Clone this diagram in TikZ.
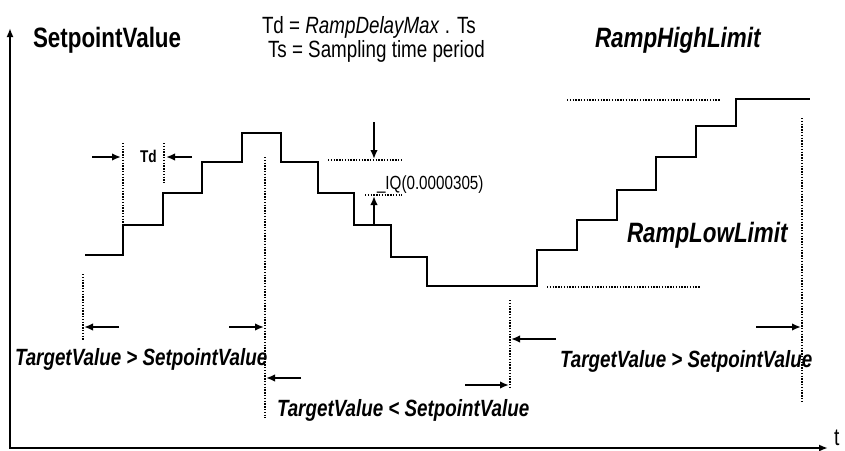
\documentclass[tikz,border=0pt]{standalone}
\usepackage{fontspec}
\setmainfont{Liberation Sans}[FakeStretch=0.8]
\usetikzlibrary{arrows.meta}
\tikzset{
  axis/.style={line width=1.8pt,-{Latex[length=9pt,width=7pt]}},
  stair/.style={line width=2.6pt,line join=miter},
  dots/.style={line width=1.5pt,dash pattern=on 1.4pt off 1.4pt},
  harrow/.style={line width=2pt,-{Latex[length=9pt,width=7.5pt]}},
  lbl/.style={anchor=base west,inner sep=0pt,outer sep=0pt},
  big/.style={lbl,font=\fontsize{28}{30}\selectfont\bfseries},
  bigit/.style={lbl,font=\fontsize{28}{30}\selectfont\bfseries\itshape},
  mid/.style={lbl,font=\fontsize{23.5}{26}\selectfont\bfseries\itshape},
  formula/.style={lbl,font=\fontsize{23.5}{26}\selectfont},
}
\begin{document}
\begin{tikzpicture}[x=1pt,y=-1pt]
\useasboundingbox (0,0) rectangle (845,450);
% axes
\coordinate (o) at (10,448);
\coordinate (ytop) at (10,28);
\coordinate (xend) at (828,448);
\draw[axis] (o) -- (ytop);
\draw[axis] ([xshift=-0.9pt]o) -- (xend);
\node[lbl,font=\fontsize{24}{26}\selectfont] (t) at (834,445) {t};
% staircase
\draw[stair] (85,255) -| (123,225) -| (163,193) -| (202,162) -| (242,133)
  -| (281,162) -| (318,193) -| (354,225) -| (391,257) -| (427,286)
  -| (537,250) -| (577,220) -| (617,190) -| (656,157) -| (696,126)
  -| (736,99) -- (810,99);
% texts
\node[big] (sv) at (33,47) {SetpointValue};
\node[formula] (f1) at (262,33) {Td = \textit{RampDelayMax} . Ts};
\node[formula] (f2) at (268,57) {Ts = Sampling time period};
\node[bigit] (rhl) at (595,47) {RampHighLimit};
\node[bigit] (rll) at (627,242) {RampLowLimit};
\node[lbl,font=\fontsize{17}{19}\selectfont\bfseries] (td) at (140,162) {Td};
\node[lbl,font=\fontsize{19}{21}\selectfont] (iq) at (377,189) {\_IQ(0.0000305)};
\node[mid] (c1) at (15,365) {TargetValue > SetpointValue};
\node[mid] (c2) at (277,416) {TargetValue < SetpointValue};
\node[mid] (c3) at (560,367) {TargetValue > SetpointValue};
% Td markers
\coordinate (td1a) at (123,143); \coordinate (td1b) at (123,225);
\coordinate (td2a) at (164,143); \coordinate (td2b) at (164,183);
\draw[dots] (td1a) -- (td1b);
\draw[dots] (td2a) -- (td2b);
\coordinate (ta1) at (92,157); \coordinate (ta1e) at (121,157);
\coordinate (ta2) at (192,157); \coordinate (ta2e) at (166,157);
\draw[harrow] (ta1) -- (ta1e);
\draw[harrow] (ta2) -- (ta2e);
% IQ markers
\coordinate (q1a) at (328,160); \coordinate (q1b) at (402,160);
\coordinate (q2a) at (365,195); \coordinate (q2b) at (402,195);
\draw[dots] (q1a) -- (q1b);
\draw[dots] (q2a) -- (q2b);
\coordinate (qa) at (374,122); \coordinate (qae) at (374,159);
\coordinate (qb) at (374,225); \coordinate (qbe) at (374,196);
\draw[harrow] (qa) -- (qae);
\draw[harrow] (qb) -- (qbe);
% limit lines
\coordinate (h1) at (567,100); \coordinate (h2) at (720,100);
\coordinate (l1) at (547,287); \coordinate (l2) at (700,287);
\draw[dots] (h1) -- (h2);
\draw[dots] (l1) -- (l2);
% vertical dotted markers
\coordinate (v1a) at (83,274); \coordinate (v1b) at (83,340);
\coordinate (v2a) at (265,157); \coordinate (v2b) at (265,418);
\coordinate (v3a) at (510,300); \coordinate (v3b) at (510,388);
\coordinate (v4a) at (802,118); \coordinate (v4b) at (802,402);
\draw[dots] (v1a) -- (v1b);
\draw[dots] (v2a) -- (v2b);
\draw[dots] (v3a) -- (v3b);
\draw[dots] (v4a) -- (v4b);
% interval arrows
\coordinate (a1) at (119,327); \coordinate (a1e) at (84,327);
\coordinate (a2) at (229,327); \coordinate (a2e) at (264,327);
\coordinate (a3) at (301,378); \coordinate (a3e) at (266,378);
\coordinate (a4) at (556,339); \coordinate (a4e) at (511,339);
\coordinate (a5) at (465,385); \coordinate (a5e) at (509,385);
\coordinate (a6) at (756,327); \coordinate (a6e) at (801,327);
\draw[harrow] (a1) -- (a1e);
\draw[harrow] (a2) -- (a2e);
\draw[harrow] (a3) -- (a3e);
\draw[harrow] (a4) -- (a4e);
\draw[harrow] (a5) -- (a5e);
\draw[harrow] (a6) -- (a6e);
\end{tikzpicture}
\end{document}
